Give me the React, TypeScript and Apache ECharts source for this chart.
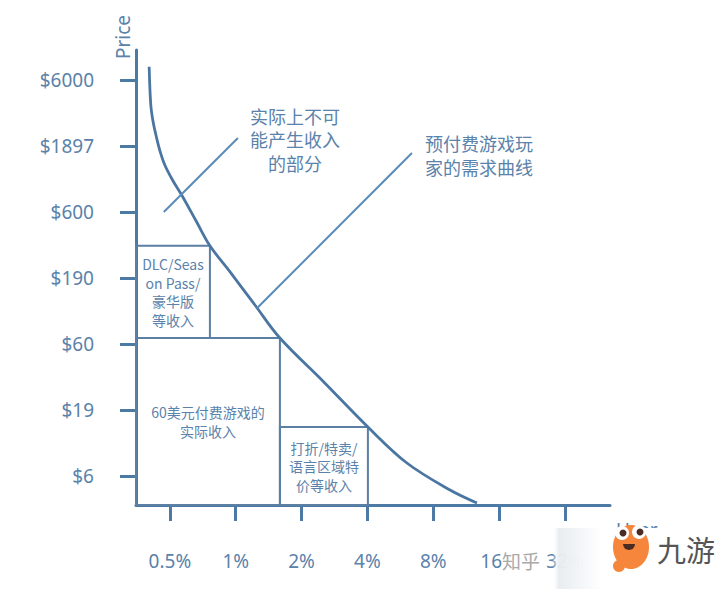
import React, { useEffect, useRef } from 'react';
import * as echarts from 'echarts';

// ---- data ----
const xTicks = [0.5, 1, 2, 4, 8, 16, 32]; // share of users, %
const yTicks = [6, 19, 60, 190, 600, 1897, 6000]; // price, $
const xRange = [0.35, 51.4];
const yRange = [3.62, 10125];

const curveUser = [0.402, 0.409, 0.419, 0.435, 0.4515, 0.474, 0.514, 0.566, 0.662, 0.762, 0.94, 1.224, 1.592, 2.5, 4.02, 6.06, 9.54, 12.67];
const curvePrice = [7570, 3880, 2898, 2180, 1718, 1362, 1049, 807, 506, 333, 212, 118.5, 66.6, 31.5, 14.1, 7.53, 4.7, 3.75];

const boxNames = ['DLC/Seas\non Pass/\n豪华版\n等收入', '60美元付费游戏的\n实际收入', '打折/特卖/\n语言区域特\n价等收入'];
const boxUserFrom = [0.35, 0.35, 1.592];
const boxUserTo = [0.762, 1.592, 4.02];
const boxPriceFrom = [66.6, 3.62, 3.62];
const boxPriceTo = [333, 66.6, 14.1];

const pointerUser = [[0.469, 1.023], [1.25, 6.39]];
const pointerPrice = [[600, 2181], [112, 1679]];
const notes = ['实际上不可\n能产生收入\n的部分', '预付费游戏玩\n家的需求曲线'];

// logarithmic placement on linear value axes
const ux = (v: number) => Math.log2(v);
const py = (v: number) => Math.log10(v);
const nearest = (arr: number[], f: (v: number) => number, val: number) =>
  arr.reduce((a, b) => (Math.abs(f(b) - val) < Math.abs(f(a) - val) ? b : a), arr[0]);

const AXIS = '#4d79a5';
const TXT = '#5a82aa';
const CJK = '"Noto Sans CJK SC", "Noto Sans", sans-serif';

export default function App() {
  const ref = useRef<HTMLDivElement>(null);
  useEffect(() => {
    if (!ref.current) return;
    const chart = echarts.init(ref.current, undefined, { renderer: 'svg' });
    const curve = curveUser.map((u, i) => [ux(u), py(curvePrice[i])]);
    const boxes = boxNames.map((n, i) => [
      { name: n, coord: [ux(boxUserFrom[i]), py(boxPriceFrom[i])] },
      { coord: [ux(boxUserTo[i]), py(boxPriceTo[i])] },
    ]);
    const pointers = pointerUser.map((u, i) => [
      { coord: [ux(u[0]), py(pointerPrice[i][0])] },
      { coord: [ux(u[1]), py(pointerPrice[i][1])] },
    ]);
    chart.setOption({
      animation: false,
      backgroundColor: '#ffffff',
      grid: { left: 136, right: 110, top: 50, bottom: 84, containLabel: false },
      xAxis: {
        type: 'value',
        min: ux(xRange[0]),
        max: ux(xRange[1]),
        splitLine: { show: false },
        axisLine: { show: true, onZero: false, lineStyle: { color: AXIS, width: 3 } },
        axisTick: { show: true, length: 16, customValues: xTicks.map(ux), lineStyle: { color: AXIS, width: 3 } },
        axisLabel: {
          customValues: xTicks.map(ux),
          margin: 46,
          fontSize: 19,
          fontFamily: '"Noto Sans", sans-serif',
          color: TXT,
          formatter: (v: number) => nearest(xTicks, ux, v) + '%',
        },
      },
      yAxis: {
        type: 'value',
        min: py(yRange[0]),
        max: py(yRange[1]),
        splitLine: { show: false },
        axisLine: { show: true, onZero: false, lineStyle: { color: AXIS, width: 3 } },
        axisTick: { show: true, length: 16, customValues: yTicks.map(py), lineStyle: { color: AXIS, width: 3 } },
        axisLabel: {
          customValues: yTicks.map(py),
          margin: 42,
          fontSize: 19,
          fontFamily: '"Noto Sans", sans-serif',
          color: TXT,
          formatter: (v: number) => '$' + nearest(yTicks, py, v),
        },
      },
      series: [
        {
          type: 'line',
          data: curve,
          smooth: 0.35,
          symbol: 'none',
          silent: true,
          lineStyle: { color: '#4a76a1', width: 2.8 },
          markArea: {
            silent: true,
            itemStyle: { color: 'rgba(0,0,0,0)', borderColor: '#5c7fa4', borderWidth: 2 },
            label: {
              show: true,
              position: 'inside',
              color: TXT,
              fontSize: 14,
              lineHeight: 18.5,
              fontFamily: CJK,
              formatter: '{b}',
            },
            data: boxes,
          },
          markLine: {
            silent: true,
            symbol: ['none', 'none'],
            label: { show: false },
            lineStyle: { color: '#5a8ab8', width: 2, type: 'solid' },
            data: pointers,
          },
        },
      ],
      graphic: [
        {
          type: 'text',
          z: 100,
          x: 295,
          y: 139,
          style: {
            text: notes[0], fill: TXT, fontSize: 18, fontFamily: CJK, lineHeight: 23.5,
            align: 'center', verticalAlign: 'middle', textAlign: 'center', textVerticalAlign: 'middle',
          },
        },
        {
          type: 'text',
          z: 100,
          x: 479,
          y: 155,
          style: {
            text: notes[1], fill: TXT, fontSize: 18, fontFamily: CJK, lineHeight: 23.5,
            align: 'center', verticalAlign: 'middle', textAlign: 'center', textVerticalAlign: 'middle',
          },
        },
        {
          type: 'text',
          z: 100,
          x: 123,
          y: 37,
          rotation: Math.PI / 2,
          style: {
            text: 'Price', fill: TXT, fontSize: 19, fontFamily: '"Noto Sans", sans-serif',
            align: 'center', verticalAlign: 'middle', textAlign: 'center', textVerticalAlign: 'middle',
          },
        },
        {
          type: 'text',
          z: 100,
          x: 616,
          y: 530,
          style: {
            text: 'User', fill: TXT, fontSize: 19, fontFamily: '"Noto Sans", sans-serif',
            align: 'left', verticalAlign: 'middle', textAlign: 'left', textVerticalAlign: 'middle',
          },
        },
        // 知乎 watermark
        {
          type: 'text',
          z: 101,
          x: 502,
          y: 560,
          style: {
            text: '知乎', fill: '#a9a9a9', stroke: '#ffffff', lineWidth: 1, fontSize: 19, fontFamily: CJK,
            backgroundColor: '#ffffff',
            align: 'left', verticalAlign: 'middle', textAlign: 'left', textVerticalAlign: 'middle',
          },
        },
        // 九游 watermark panel
        {
          type: 'rect',
          z: 102,
          shape: { x: 552, y: 528, width: 168, height: 61 },
          style: {
            fill: new echarts.graphic.LinearGradient(0, 0, 1, 0, [
              { offset: 0, color: 'rgba(255,255,255,0)' },
              { offset: 0.04, color: 'rgba(232,236,240,0.97)' },
              { offset: 0.3, color: '#ffffff' },
              { offset: 1, color: '#ffffff' },
            ]),
          },
        },
        { type: 'circle', z: 103, shape: { cx: 619, cy: 566, r: 6 }, style: { fill: '#f5863c' } },
        { type: 'ellipse', z: 103, shape: { cx: 631, cy: 547, rx: 18, ry: 22 }, style: { fill: '#f5863c' } },
        { type: 'circle', z: 104, shape: { cx: 622, cy: 533, r: 7 }, style: { fill: '#ffffff' } },
        { type: 'circle', z: 104, shape: { cx: 639, cy: 532, r: 7 }, style: { fill: '#ffffff' } },
        { type: 'circle', z: 105, shape: { cx: 623, cy: 533, r: 3.5 }, style: { fill: '#4a2c22' } },
        { type: 'circle', z: 105, shape: { cx: 640, cy: 532, r: 3.5 }, style: { fill: '#4a2c22' } },
        {
          type: 'sector',
          z: 105,
          shape: { cx: 629, cy: 544, r: 6, r0: 0, startAngle: 0, endAngle: Math.PI, clockwise: true },
          style: { fill: '#4a2c22' },
        },
        {
          type: 'text',
          z: 105,
          x: 657,
          y: 549,
          style: {
            text: '九游', fill: '#555555', fontSize: 29, fontFamily: CJK,
            align: 'left', verticalAlign: 'middle', textAlign: 'left', textVerticalAlign: 'middle',
          },
        },
      ],
    });
    return () => chart.dispose();
  }, []);
  return <div ref={ref} style={{ position: 'fixed', left: 0, top: 0, width: 720, height: 589 }} />;
}
